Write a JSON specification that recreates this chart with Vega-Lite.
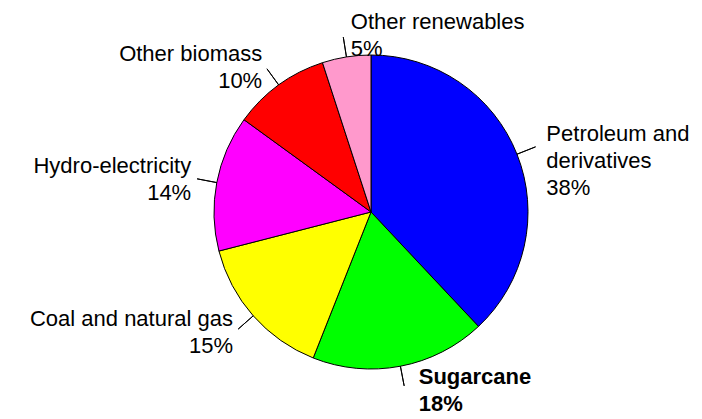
{
  "$schema": "https://vega.github.io/schema/vega-lite/v6.json",
  "width": 314,
  "height": 314,
  "autosize": {"type": "none"},
  "padding": {"left": 214, "top": 55, "right": 174, "bottom": 50},
  "background": "white",
  "config": {"view": {"stroke": null}},
  "data": {
    "values": [
      {"source": "Petroleum and derivatives", "share": 38, "rank": 1, "label": "Petroleum and\nderivatives\n38%"},
      {"source": "Sugarcane", "share": 18, "rank": 2, "label": "Sugarcane\n18%"},
      {"source": "Coal and natural gas", "share": 15, "rank": 3, "label": "Coal and natural gas\n15%"},
      {"source": "Hydro-electricity", "share": 14, "rank": 4, "label": "Hydro-electricity\n14%"},
      {"source": "Other biomass", "share": 10, "rank": 5, "label": "Other biomass\n10%"},
      {"source": "Other renewables", "share": 5, "rank": 6, "label": "Other renewables\n5%"}
    ]
  },
  "encoding": {
    "theta": {"field": "share", "type": "quantitative", "stack": true},
    "order": {"field": "rank", "type": "quantitative", "sort": "ascending"}
  },
  "layer": [
    {
      "mark": {"type": "arc", "radius": 157, "stroke": "black", "strokeWidth": 1},
      "encoding": {
        "color": {
          "field": "source",
          "type": "nominal",
          "scale": {
            "domain": ["Petroleum and derivatives", "Sugarcane", "Coal and natural gas", "Hydro-electricity", "Other biomass", "Other renewables"],
            "range": ["#0000FF", "#00FF00", "#FFFF00", "#FF00FF", "#FF0000", "#FF99CC"]
          },
          "legend": null
        }
      }
    },
    {
      "mark": {"type": "arc", "radius": 177, "radius2": 157, "padAngle": 3.1416, "stroke": "black", "strokeWidth": 1, "fill": "transparent"},
      "encoding": {}
    },
    {
      "mark": {"type": "text", "radius": 180, "align": "left", "baseline": "top", "dx": 8, "dy": -22, "font": "Arial, Liberation Sans", "fontSize": 22, "lineHeight": 27, "lineBreak": "\n", "fill": "black"},
      "encoding": {
        "text": {"condition": {"test": "datum.rank == 1 || datum.rank == 6", "field": "label", "type": "nominal"}, "value": ""}
      }
    },
    {
      "mark": {"type": "text", "radius": 180, "align": "left", "baseline": "top", "dx": 14, "dy": -22, "font": "Arial, Liberation Sans", "fontSize": 22, "fontWeight": "bold", "lineHeight": 27, "lineBreak": "\n", "fill": "black"},
      "encoding": {
        "text": {"condition": {"test": "datum.source === 'Sugarcane'", "field": "label", "type": "nominal"}, "value": ""}
      }
    },
    {
      "mark": {"type": "text", "radius": 180, "align": "right", "baseline": "top", "dx": -3, "dy": -22, "font": "Arial, Liberation Sans", "fontSize": 22, "lineHeight": 27, "lineBreak": "\n", "fill": "black"},
      "encoding": {
        "text": {"condition": {"test": "datum.rank >= 3 && datum.rank <= 5", "field": "label", "type": "nominal"}, "value": ""}
      }
    }
  ]
}
